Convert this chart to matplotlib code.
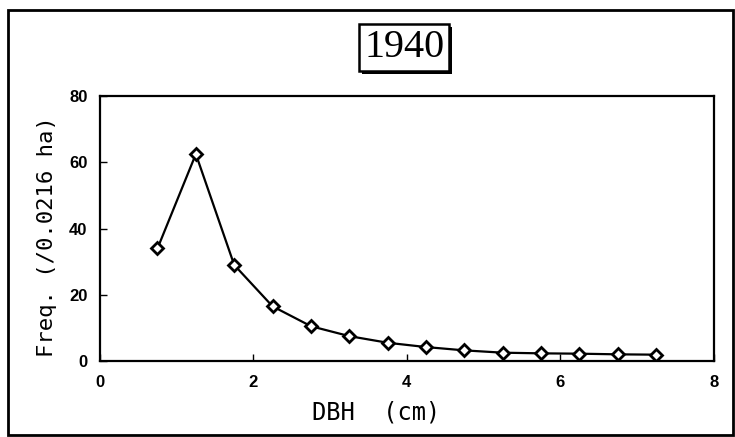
import matplotlib.pyplot as plt
import matplotlib.patheffects as pe
from matplotlib.patches import Rectangle

# DBH class midpoints (cm) and stem frequency per 0.0216 ha plot
dbh = [0.75, 1.25, 1.75, 2.25, 2.75, 3.25, 3.75, 4.25, 4.75, 5.25, 5.75, 6.25, 6.75, 7.25]
freq = [34, 62.5, 29, 16.5, 10.5, 7.5, 5.5, 4.2, 3.2, 2.5, 2.3, 2.2, 2.0, 1.9]

year = "1940"
xticks = [0, 2, 4, 6, 8]
yticks = [0, 20, 40, 60, 80]

fig = plt.figure(figsize=(7.35, 4.37), dpi=100)
ax = fig.add_axes([0.136, 0.174, 0.835, 0.606])

ax.plot(dbh, freq, color="black", lw=1.6, marker="D", ms=6.5,
        mfc="white", mec="black", mew=2, zorder=3)

ax.set_xlim(0, 8)
ax.set_ylim(0, 80)
ax.set_xticks(xticks)
ax.set_yticks(yticks)
ax.tick_params(direction="in", length=5, width=1)
ax.tick_params(axis="y", pad=9)
ax.tick_params(axis="x", pad=10)
for lab in ax.get_xticklabels() + ax.get_yticklabels():
    lab.set_fontfamily("Liberation Sans")
    lab.set_fontweight("bold")
    lab.set_fontsize(12)
for sp in ax.spines.values():
    sp.set_linewidth(1.6)

ax.set_xlabel("DBH  (cm)", family="DejaVu Sans Mono", fontsize=17)
ax.set_ylabel("Freq. (/0.0216 ha)", family="DejaVu Sans Mono", fontsize=16)
ax.xaxis.set_label_coords(0.45, -0.15)
ax.yaxis.set_label_coords(-0.07, 0.47)

# year caption in a framed box above the plot
title = fig.text(0.55, 0.891, year, family="Liberation Serif", fontsize=29,
                 ha="center", va="center",
                 bbox=dict(boxstyle="square,pad=0.12", fc="white", ec="black", lw=1.8))
title.get_bbox_patch().set_path_effects(
    [pe.SimplePatchShadow(offset=(2, -2), shadow_rgbFace="black", alpha=1), pe.Normal()])

# outer frame around the whole panel
fig.patches.append(Rectangle((0.011, 0.005), 0.986, 0.972, transform=fig.transFigure,
                             fill=False, ec="black", lw=2))

fig.savefig("out.png", dpi=100)
